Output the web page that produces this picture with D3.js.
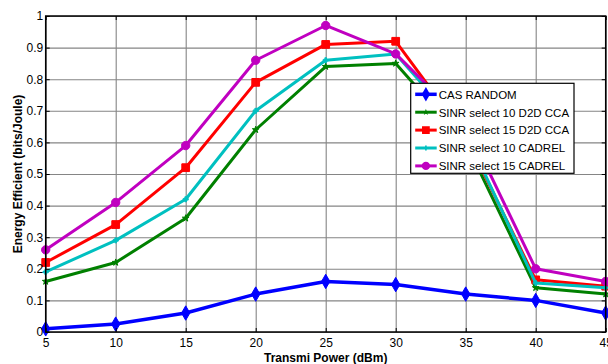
<!DOCTYPE html>
<html>
<head>
<meta charset="utf-8">
<script src="https://cdn.jsdelivr.net/npm/d3@7"></script>
<style>
  body { margin: 0; background: #fff; }
  svg { display: block; font-family: "Liberation Sans", Arial, sans-serif; }
</style>
</head>
<body>
<svg id="chart" width="608" height="364"></svg>
<script>
// data
const power = [5, 10, 15, 20, 25, 30, 35, 40, 45];
const casRandom    = [0.01, 0.025, 0.06, 0.12, 0.16, 0.15, 0.12, 0.10, 0.06];
const sinr10D2D    = [0.16, 0.22, 0.36, 0.64, 0.84, 0.85, 0.60, 0.14, 0.12];
const sinr15D2D    = [0.22, 0.34, 0.52, 0.79, 0.91, 0.92, 0.62, 0.165, 0.145];
const sinr10Cadrel = [0.19, 0.29, 0.42, 0.70, 0.86, 0.88, 0.63, 0.155, 0.14];
const sinr15Cadrel = [0.26, 0.41, 0.59, 0.86, 0.97, 0.88, 0.66, 0.20, 0.16];
const xTicks = [5, 10, 15, 20, 25, 30, 35, 40, 45];
const yTicks = [0, 0.1, 0.2, 0.3, 0.4, 0.5, 0.6, 0.7, 0.8, 0.9, 1];

const series = [
  { name: "CAS RANDOM", values: casRandom, color: "#0000ff", symbol: d3.symbolDiamond, size: 60, width: 3.5 },
  { name: "SINR select 10 D2D CCA", values: sinr10D2D, color: "#008000", symbol: d3.symbolStar, size: 14, width: 3 },
  { name: "SINR select 15 D2D CCA", values: sinr15D2D, color: "#ff0000", symbol: d3.symbolSquare, size: 60, width: 3 },
  { name: "SINR select 10 CADREL", values: sinr10Cadrel, color: "#00c0c0", symbol: d3.symbolCross, size: 14, width: 3 },
  { name: "SINR select 15 CADREL", values: sinr15Cadrel, color: "#c000c0", symbol: d3.symbolCircle, size: 55, width: 3 }
];

const svg = d3.select("#chart");
const mLeft = 45.7, mRight = 605.7, mTop = 16, mBottom = 332;

const x = d3.scaleLinear().domain([5, 45]).range([mLeft, mRight]);
const y = d3.scaleLinear().domain([0, 1]).range([mBottom, mTop]);

// grid
svg.append("g")
  .attr("transform", "translate(0," + mBottom + ")")
  .call(d3.axisBottom(x).tickValues(xTicks).tickSize(-(mBottom - mTop)).tickFormat(""))
  .call(g => g.select(".domain").remove())
  .selectAll("line").attr("stroke", "#858585").attr("stroke-width", 1.1);
svg.append("g")
  .attr("transform", "translate(" + mLeft + ",0)")
  .call(d3.axisLeft(y).tickValues(yTicks).tickSize(-(mRight - mLeft)).tickFormat(""))
  .call(g => g.select(".domain").remove())
  .selectAll("line").attr("stroke", "#858585").attr("stroke-width", 1.1);

// lines and markers
const line = d3.line().x((d, i) => x(power[i])).y(d => y(d));
series.forEach(s => {
  svg.append("path")
    .datum(s.values)
    .attr("fill", "none")
    .attr("stroke", s.color)
    .attr("stroke-width", s.width)
    .attr("stroke-linejoin", "round")
    .attr("d", line);
  svg.selectAll(null)
    .data(s.values)
    .enter()
    .append("path")
    .attr("transform", (d, i) => "translate(" + x(power[i]) + "," + y(d) + ")")
    .attr("d", d3.symbol().type(s.symbol).size(s.size))
    .attr("fill", s.color)
    .attr("stroke", s.color)
    .attr("stroke-width", 1);
});

// frame with inward ticks
svg.append("rect")
  .attr("x", mLeft).attr("y", mTop)
  .attr("width", mRight - mLeft).attr("height", mBottom - mTop)
  .attr("fill", "none").attr("stroke", "#000").attr("stroke-width", 1.5);

const xAxis = svg.append("g")
  .attr("transform", "translate(0," + mBottom + ")")
  .call(d3.axisBottom(x).tickValues(xTicks).tickSizeInner(-4).tickSizeOuter(0).tickPadding(6.5));
xAxis.select(".domain").remove();
xAxis.selectAll("text").attr("font-size", 12).attr("fill", "#000").attr("font-family", "Liberation Sans, Arial");

const yAxis = svg.append("g")
  .attr("transform", "translate(" + mLeft + ",0)")
  .call(d3.axisLeft(y).tickValues(yTicks).tickFormat(d3.format("")).tickSizeInner(-4).tickSizeOuter(0).tickPadding(2.5));
yAxis.select(".domain").remove();
yAxis.selectAll("text").attr("font-size", 12).attr("fill", "#000").attr("font-family", "Liberation Sans, Arial");

svg.append("g")
  .attr("transform", "translate(0," + mTop + ")")
  .call(d3.axisTop(x).tickValues(xTicks).tickSizeInner(-4).tickSizeOuter(0).tickFormat(""))
  .select(".domain").remove();
svg.append("g")
  .attr("transform", "translate(" + mRight + ",0)")
  .call(d3.axisRight(y).tickValues(yTicks).tickSizeInner(-4).tickSizeOuter(0).tickFormat(""))
  .select(".domain").remove();

// axis titles
svg.append("text")
  .attr("x", (mLeft + mRight) / 2).attr("y", 361.5)
  .attr("text-anchor", "middle")
  .attr("font-size", 12).attr("font-weight", "bold")
  .text("Transmi Power (dBm)");
svg.append("text")
  .attr("transform", "translate(22," + ((mTop + mBottom) / 2) + ") rotate(-90)")
  .attr("text-anchor", "middle")
  .attr("font-size", 12).attr("font-weight", "bold")
  .text("Energy Efficient (bits/Joule)");

// legend
const legend = svg.append("g").attr("transform", "translate(410.7,83.3)");
legend.append("rect")
  .attr("width", 163.3).attr("height", 90)
  .attr("fill", "#fff").attr("stroke", "#000").attr("stroke-width", 1.2);
series.forEach((s, i) => {
  const row = legend.append("g").attr("transform", "translate(0," + (11 + i * 17.9) + ")");
  row.append("line")
    .attr("x1", 4.5).attr("x2", 26)
    .attr("stroke", s.color).attr("stroke-width", s.width);
  row.append("path")
    .attr("transform", "translate(15.2,0)")
    .attr("d", d3.symbol().type(s.symbol).size(s.size))
    .attr("fill", s.color);
  row.append("text")
    .attr("x", 28).attr("y", 4.3)
    .attr("font-size", 11.5)
    .text(s.name);
});
</script>
</body>
</html>
